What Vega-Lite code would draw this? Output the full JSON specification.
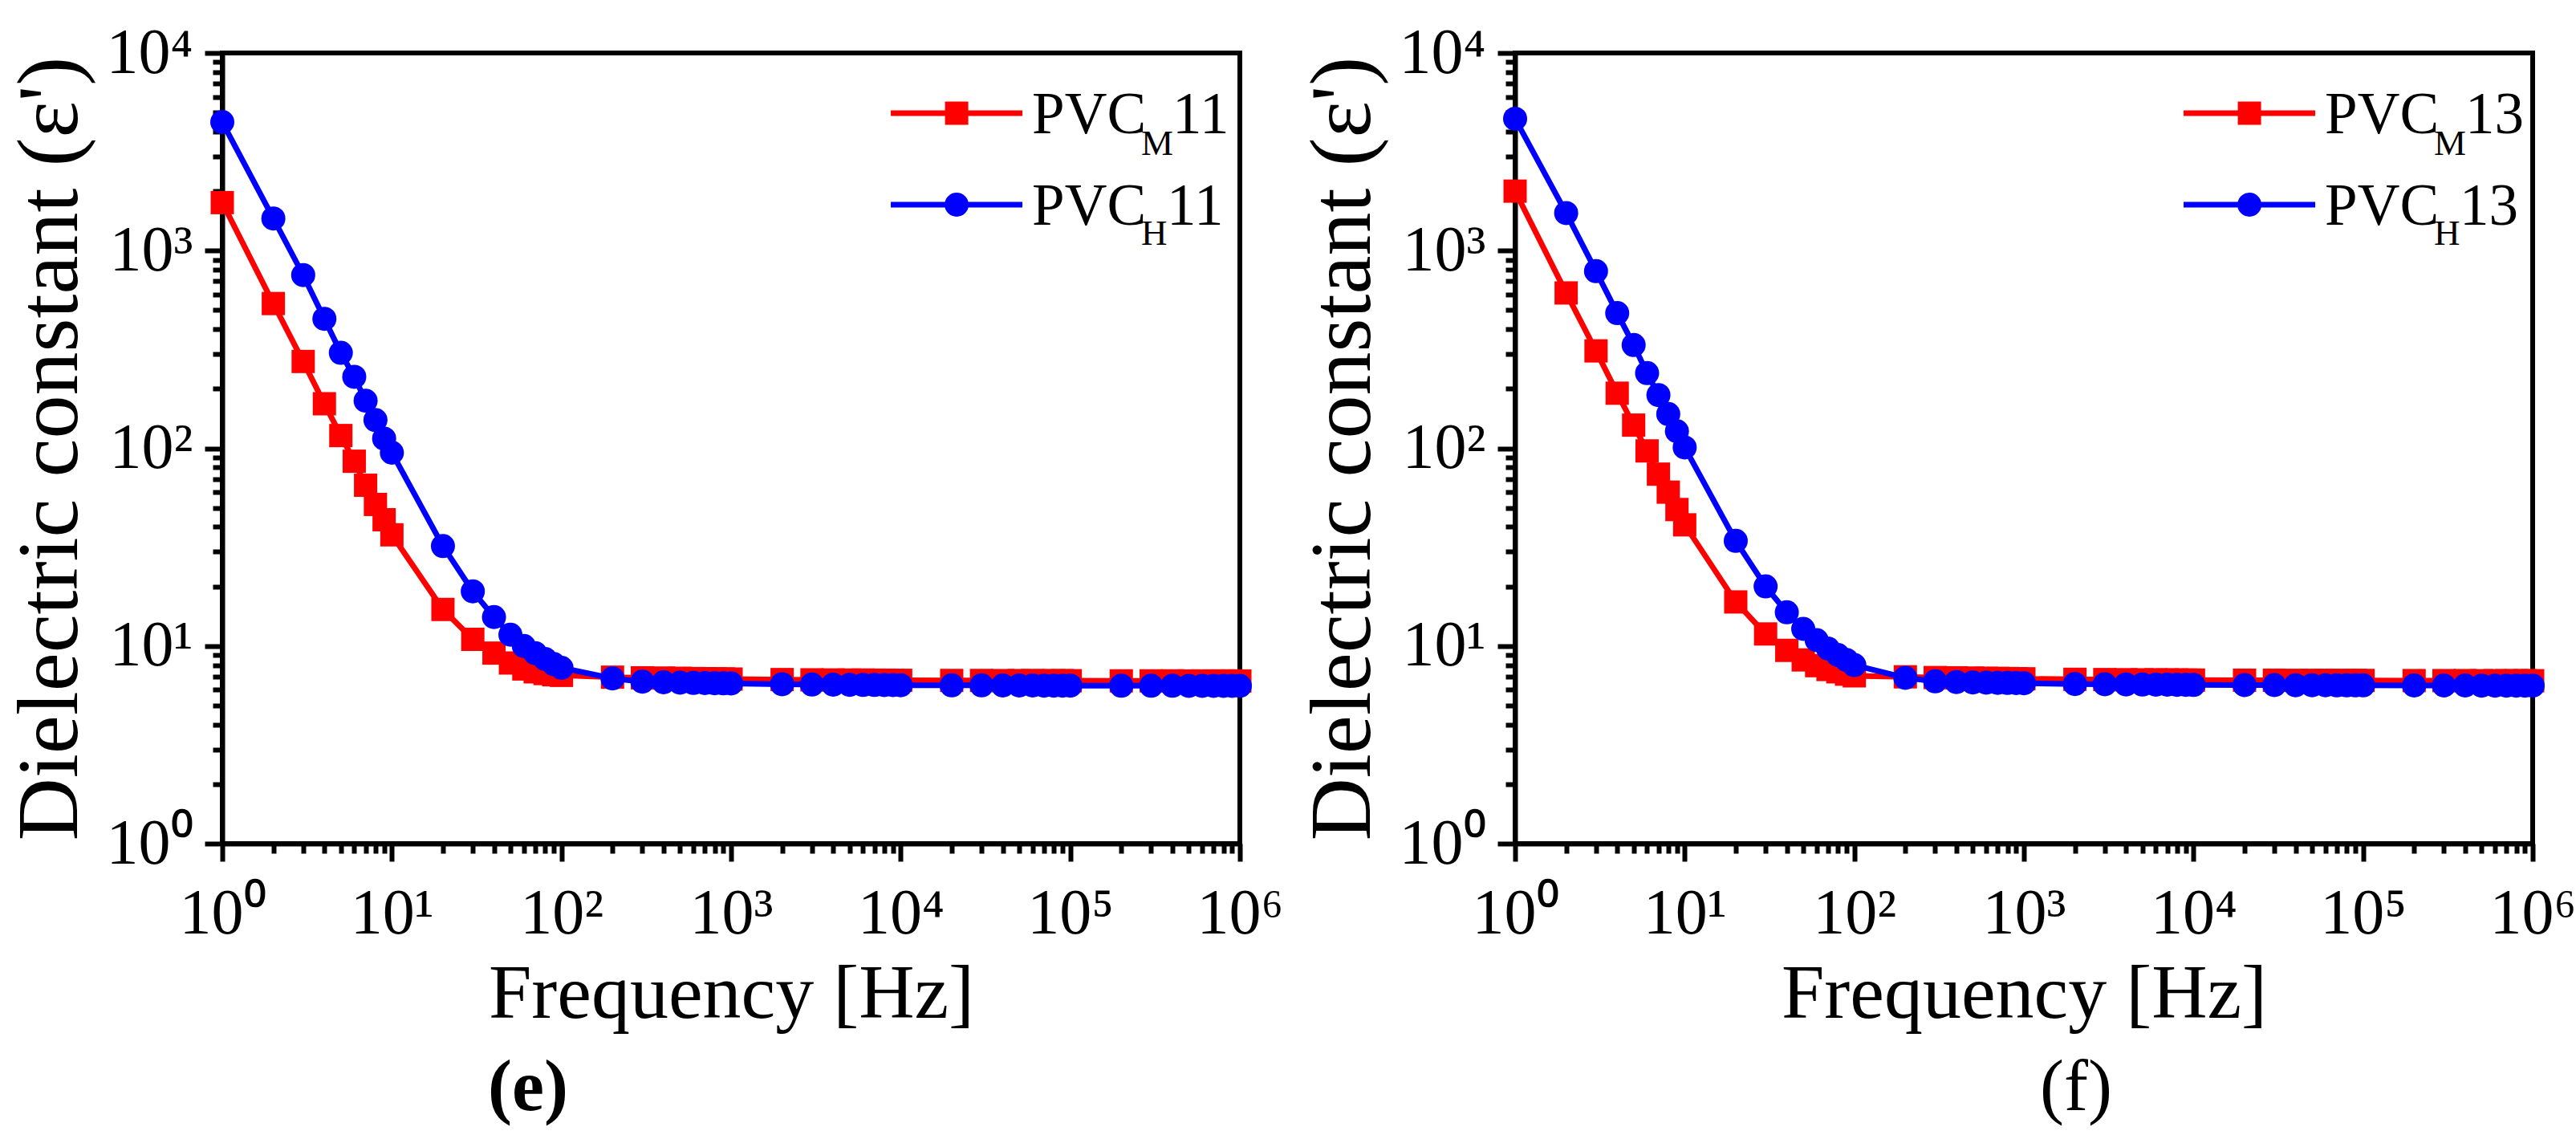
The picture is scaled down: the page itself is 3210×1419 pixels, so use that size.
{
  "$schema": "https://vega.github.io/schema/vega-lite/v6.json",
  "description": "Dielectric constant vs frequency, PVC samples (e) 11 and (f) 13",
  "background": "white",
  "padding": {"left": 5, "top": 23, "right": 0, "bottom": 0},
  "bounds": "flush",
  "spacing": 343,
  "config": {
    "font": "Liberation Serif",
    "view": {"stroke": "black", "strokeWidth": 6},
    "axis": {
      "grid": false,
      "domainColor": "black",
      "domainWidth": 6,
      "tickColor": "black",
      "tickWidth": 6,
      "labelFont": "Liberation Serif",
      "labelFontSize": 80,
      "labelColor": "black",
      "labelOverlap": false,
      "labelFlush": false,
      "labelBound": false,
      "titleFont": "Liberation Serif",
      "titleFontSize": 96,
      "titleFontWeight": "normal",
      "titleColor": "black"
    }
  },
  "datasets": {
    "panel_e": [
      {"frequency": 1, "permittivity": 1750, "sample": "PVC_M11"},
      {"frequency": 2, "permittivity": 540, "sample": "PVC_M11"},
      {"frequency": 3, "permittivity": 275, "sample": "PVC_M11"},
      {"frequency": 4, "permittivity": 168, "sample": "PVC_M11"},
      {"frequency": 5, "permittivity": 116, "sample": "PVC_M11"},
      {"frequency": 6, "permittivity": 86, "sample": "PVC_M11"},
      {"frequency": 7, "permittivity": 65, "sample": "PVC_M11"},
      {"frequency": 8, "permittivity": 52, "sample": "PVC_M11"},
      {"frequency": 9, "permittivity": 43.5, "sample": "PVC_M11"},
      {"frequency": 10, "permittivity": 36.5, "sample": "PVC_M11"},
      {"frequency": 20, "permittivity": 15.3, "sample": "PVC_M11"},
      {"frequency": 30, "permittivity": 10.8, "sample": "PVC_M11"},
      {"frequency": 40, "permittivity": 9.2, "sample": "PVC_M11"},
      {"frequency": 50, "permittivity": 8.2, "sample": "PVC_M11"},
      {"frequency": 60, "permittivity": 7.65, "sample": "PVC_M11"},
      {"frequency": 70, "permittivity": 7.4, "sample": "PVC_M11"},
      {"frequency": 80, "permittivity": 7.25, "sample": "PVC_M11"},
      {"frequency": 90, "permittivity": 7.15, "sample": "PVC_M11"},
      {"frequency": 100, "permittivity": 7.1, "sample": "PVC_M11"},
      {"frequency": 200, "permittivity": 6.95, "sample": "PVC_M11"},
      {"frequency": 300, "permittivity": 6.9, "sample": "PVC_M11"},
      {"frequency": 400, "permittivity": 6.88, "sample": "PVC_M11"},
      {"frequency": 500, "permittivity": 6.86, "sample": "PVC_M11"},
      {"frequency": 600, "permittivity": 6.84, "sample": "PVC_M11"},
      {"frequency": 700, "permittivity": 6.83, "sample": "PVC_M11"},
      {"frequency": 800, "permittivity": 6.82, "sample": "PVC_M11"},
      {"frequency": 900, "permittivity": 6.81, "sample": "PVC_M11"},
      {"frequency": 1000, "permittivity": 6.8, "sample": "PVC_M11"},
      {"frequency": 2000, "permittivity": 6.76, "sample": "PVC_M11"},
      {"frequency": 3000, "permittivity": 6.74, "sample": "PVC_M11"},
      {"frequency": 4000, "permittivity": 6.73, "sample": "PVC_M11"},
      {"frequency": 5000, "permittivity": 6.72, "sample": "PVC_M11"},
      {"frequency": 6000, "permittivity": 6.72, "sample": "PVC_M11"},
      {"frequency": 7000, "permittivity": 6.71, "sample": "PVC_M11"},
      {"frequency": 8000, "permittivity": 6.71, "sample": "PVC_M11"},
      {"frequency": 9000, "permittivity": 6.7, "sample": "PVC_M11"},
      {"frequency": 10000, "permittivity": 6.7, "sample": "PVC_M11"},
      {"frequency": 20000, "permittivity": 6.69, "sample": "PVC_M11"},
      {"frequency": 30000, "permittivity": 6.69, "sample": "PVC_M11"},
      {"frequency": 40000, "permittivity": 6.68, "sample": "PVC_M11"},
      {"frequency": 50000, "permittivity": 6.68, "sample": "PVC_M11"},
      {"frequency": 60000, "permittivity": 6.68, "sample": "PVC_M11"},
      {"frequency": 70000, "permittivity": 6.67, "sample": "PVC_M11"},
      {"frequency": 80000, "permittivity": 6.67, "sample": "PVC_M11"},
      {"frequency": 90000, "permittivity": 6.67, "sample": "PVC_M11"},
      {"frequency": 100000, "permittivity": 6.67, "sample": "PVC_M11"},
      {"frequency": 200000, "permittivity": 6.66, "sample": "PVC_M11"},
      {"frequency": 300000, "permittivity": 6.66, "sample": "PVC_M11"},
      {"frequency": 400000, "permittivity": 6.66, "sample": "PVC_M11"},
      {"frequency": 500000, "permittivity": 6.65, "sample": "PVC_M11"},
      {"frequency": 600000, "permittivity": 6.65, "sample": "PVC_M11"},
      {"frequency": 700000, "permittivity": 6.65, "sample": "PVC_M11"},
      {"frequency": 800000, "permittivity": 6.65, "sample": "PVC_M11"},
      {"frequency": 900000, "permittivity": 6.65, "sample": "PVC_M11"},
      {"frequency": 1000000, "permittivity": 6.65, "sample": "PVC_M11"},
      {"frequency": 1, "permittivity": 4470, "sample": "PVC_H11"},
      {"frequency": 2, "permittivity": 1455, "sample": "PVC_H11"},
      {"frequency": 3, "permittivity": 752, "sample": "PVC_H11"},
      {"frequency": 4, "permittivity": 452, "sample": "PVC_H11"},
      {"frequency": 5, "permittivity": 304, "sample": "PVC_H11"},
      {"frequency": 6, "permittivity": 230, "sample": "PVC_H11"},
      {"frequency": 7, "permittivity": 174, "sample": "PVC_H11"},
      {"frequency": 8, "permittivity": 139, "sample": "PVC_H11"},
      {"frequency": 9, "permittivity": 112, "sample": "PVC_H11"},
      {"frequency": 10, "permittivity": 95, "sample": "PVC_H11"},
      {"frequency": 20, "permittivity": 32, "sample": "PVC_H11"},
      {"frequency": 30, "permittivity": 18.9, "sample": "PVC_H11"},
      {"frequency": 40, "permittivity": 14, "sample": "PVC_H11"},
      {"frequency": 50, "permittivity": 11.4, "sample": "PVC_H11"},
      {"frequency": 60, "permittivity": 10, "sample": "PVC_H11"},
      {"frequency": 70, "permittivity": 9.2, "sample": "PVC_H11"},
      {"frequency": 80, "permittivity": 8.6, "sample": "PVC_H11"},
      {"frequency": 90, "permittivity": 8.1, "sample": "PVC_H11"},
      {"frequency": 100, "permittivity": 7.75, "sample": "PVC_H11"},
      {"frequency": 200, "permittivity": 6.85, "sample": "PVC_H11"},
      {"frequency": 300, "permittivity": 6.6, "sample": "PVC_H11"},
      {"frequency": 400, "permittivity": 6.55, "sample": "PVC_H11"},
      {"frequency": 500, "permittivity": 6.52, "sample": "PVC_H11"},
      {"frequency": 600, "permittivity": 6.5, "sample": "PVC_H11"},
      {"frequency": 700, "permittivity": 6.49, "sample": "PVC_H11"},
      {"frequency": 800, "permittivity": 6.48, "sample": "PVC_H11"},
      {"frequency": 900, "permittivity": 6.47, "sample": "PVC_H11"},
      {"frequency": 1000, "permittivity": 6.46, "sample": "PVC_H11"},
      {"frequency": 2000, "permittivity": 6.4, "sample": "PVC_H11"},
      {"frequency": 3000, "permittivity": 6.38, "sample": "PVC_H11"},
      {"frequency": 4000, "permittivity": 6.37, "sample": "PVC_H11"},
      {"frequency": 5000, "permittivity": 6.36, "sample": "PVC_H11"},
      {"frequency": 6000, "permittivity": 6.35, "sample": "PVC_H11"},
      {"frequency": 7000, "permittivity": 6.35, "sample": "PVC_H11"},
      {"frequency": 8000, "permittivity": 6.34, "sample": "PVC_H11"},
      {"frequency": 9000, "permittivity": 6.34, "sample": "PVC_H11"},
      {"frequency": 10000, "permittivity": 6.33, "sample": "PVC_H11"},
      {"frequency": 20000, "permittivity": 6.32, "sample": "PVC_H11"},
      {"frequency": 30000, "permittivity": 6.32, "sample": "PVC_H11"},
      {"frequency": 40000, "permittivity": 6.31, "sample": "PVC_H11"},
      {"frequency": 50000, "permittivity": 6.31, "sample": "PVC_H11"},
      {"frequency": 60000, "permittivity": 6.31, "sample": "PVC_H11"},
      {"frequency": 70000, "permittivity": 6.3, "sample": "PVC_H11"},
      {"frequency": 80000, "permittivity": 6.3, "sample": "PVC_H11"},
      {"frequency": 90000, "permittivity": 6.3, "sample": "PVC_H11"},
      {"frequency": 100000, "permittivity": 6.3, "sample": "PVC_H11"},
      {"frequency": 200000, "permittivity": 6.29, "sample": "PVC_H11"},
      {"frequency": 300000, "permittivity": 6.29, "sample": "PVC_H11"},
      {"frequency": 400000, "permittivity": 6.29, "sample": "PVC_H11"},
      {"frequency": 500000, "permittivity": 6.28, "sample": "PVC_H11"},
      {"frequency": 600000, "permittivity": 6.28, "sample": "PVC_H11"},
      {"frequency": 700000, "permittivity": 6.28, "sample": "PVC_H11"},
      {"frequency": 800000, "permittivity": 6.28, "sample": "PVC_H11"},
      {"frequency": 900000, "permittivity": 6.28, "sample": "PVC_H11"},
      {"frequency": 1000000, "permittivity": 6.28, "sample": "PVC_H11"}
    ],
    "panel_f": [
      {"frequency": 1, "permittivity": 2000, "sample": "PVC_M13"},
      {"frequency": 2, "permittivity": 611, "sample": "PVC_M13"},
      {"frequency": 3, "permittivity": 311, "sample": "PVC_M13"},
      {"frequency": 4, "permittivity": 190, "sample": "PVC_M13"},
      {"frequency": 5, "permittivity": 131, "sample": "PVC_M13"},
      {"frequency": 6, "permittivity": 97, "sample": "PVC_M13"},
      {"frequency": 7, "permittivity": 74, "sample": "PVC_M13"},
      {"frequency": 8, "permittivity": 60, "sample": "PVC_M13"},
      {"frequency": 9, "permittivity": 49, "sample": "PVC_M13"},
      {"frequency": 10, "permittivity": 41, "sample": "PVC_M13"},
      {"frequency": 20, "permittivity": 16.7, "sample": "PVC_M13"},
      {"frequency": 30, "permittivity": 11.5, "sample": "PVC_M13"},
      {"frequency": 40, "permittivity": 9.5, "sample": "PVC_M13"},
      {"frequency": 50, "permittivity": 8.5, "sample": "PVC_M13"},
      {"frequency": 60, "permittivity": 7.95, "sample": "PVC_M13"},
      {"frequency": 70, "permittivity": 7.6, "sample": "PVC_M13"},
      {"frequency": 80, "permittivity": 7.4, "sample": "PVC_M13"},
      {"frequency": 90, "permittivity": 7.2, "sample": "PVC_M13"},
      {"frequency": 100, "permittivity": 7.06, "sample": "PVC_M13"},
      {"frequency": 200, "permittivity": 6.98, "sample": "PVC_M13"},
      {"frequency": 300, "permittivity": 6.92, "sample": "PVC_M13"},
      {"frequency": 400, "permittivity": 6.9, "sample": "PVC_M13"},
      {"frequency": 500, "permittivity": 6.88, "sample": "PVC_M13"},
      {"frequency": 600, "permittivity": 6.86, "sample": "PVC_M13"},
      {"frequency": 700, "permittivity": 6.85, "sample": "PVC_M13"},
      {"frequency": 800, "permittivity": 6.84, "sample": "PVC_M13"},
      {"frequency": 900, "permittivity": 6.83, "sample": "PVC_M13"},
      {"frequency": 1000, "permittivity": 6.82, "sample": "PVC_M13"},
      {"frequency": 2000, "permittivity": 6.78, "sample": "PVC_M13"},
      {"frequency": 3000, "permittivity": 6.76, "sample": "PVC_M13"},
      {"frequency": 4000, "permittivity": 6.75, "sample": "PVC_M13"},
      {"frequency": 5000, "permittivity": 6.74, "sample": "PVC_M13"},
      {"frequency": 6000, "permittivity": 6.74, "sample": "PVC_M13"},
      {"frequency": 7000, "permittivity": 6.73, "sample": "PVC_M13"},
      {"frequency": 8000, "permittivity": 6.73, "sample": "PVC_M13"},
      {"frequency": 9000, "permittivity": 6.72, "sample": "PVC_M13"},
      {"frequency": 10000, "permittivity": 6.72, "sample": "PVC_M13"},
      {"frequency": 20000, "permittivity": 6.71, "sample": "PVC_M13"},
      {"frequency": 30000, "permittivity": 6.71, "sample": "PVC_M13"},
      {"frequency": 40000, "permittivity": 6.7, "sample": "PVC_M13"},
      {"frequency": 50000, "permittivity": 6.7, "sample": "PVC_M13"},
      {"frequency": 60000, "permittivity": 6.7, "sample": "PVC_M13"},
      {"frequency": 70000, "permittivity": 6.69, "sample": "PVC_M13"},
      {"frequency": 80000, "permittivity": 6.69, "sample": "PVC_M13"},
      {"frequency": 90000, "permittivity": 6.69, "sample": "PVC_M13"},
      {"frequency": 100000, "permittivity": 6.69, "sample": "PVC_M13"},
      {"frequency": 200000, "permittivity": 6.68, "sample": "PVC_M13"},
      {"frequency": 300000, "permittivity": 6.68, "sample": "PVC_M13"},
      {"frequency": 400000, "permittivity": 6.68, "sample": "PVC_M13"},
      {"frequency": 500000, "permittivity": 6.67, "sample": "PVC_M13"},
      {"frequency": 600000, "permittivity": 6.67, "sample": "PVC_M13"},
      {"frequency": 700000, "permittivity": 6.67, "sample": "PVC_M13"},
      {"frequency": 800000, "permittivity": 6.67, "sample": "PVC_M13"},
      {"frequency": 900000, "permittivity": 6.67, "sample": "PVC_M13"},
      {"frequency": 1000000, "permittivity": 6.67, "sample": "PVC_M13"},
      {"frequency": 1, "permittivity": 4650, "sample": "PVC_H13"},
      {"frequency": 2, "permittivity": 1550, "sample": "PVC_H13"},
      {"frequency": 3, "permittivity": 787, "sample": "PVC_H13"},
      {"frequency": 4, "permittivity": 483, "sample": "PVC_H13"},
      {"frequency": 5, "permittivity": 333, "sample": "PVC_H13"},
      {"frequency": 6, "permittivity": 240, "sample": "PVC_H13"},
      {"frequency": 7, "permittivity": 186, "sample": "PVC_H13"},
      {"frequency": 8, "permittivity": 149, "sample": "PVC_H13"},
      {"frequency": 9, "permittivity": 122, "sample": "PVC_H13"},
      {"frequency": 10, "permittivity": 101, "sample": "PVC_H13"},
      {"frequency": 20, "permittivity": 34, "sample": "PVC_H13"},
      {"frequency": 30, "permittivity": 20, "sample": "PVC_H13"},
      {"frequency": 40, "permittivity": 14.8, "sample": "PVC_H13"},
      {"frequency": 50, "permittivity": 12.2, "sample": "PVC_H13"},
      {"frequency": 60, "permittivity": 10.7, "sample": "PVC_H13"},
      {"frequency": 70, "permittivity": 9.7, "sample": "PVC_H13"},
      {"frequency": 80, "permittivity": 9.0, "sample": "PVC_H13"},
      {"frequency": 90, "permittivity": 8.5, "sample": "PVC_H13"},
      {"frequency": 100, "permittivity": 8.0, "sample": "PVC_H13"},
      {"frequency": 200, "permittivity": 6.9, "sample": "PVC_H13"},
      {"frequency": 300, "permittivity": 6.62, "sample": "PVC_H13"},
      {"frequency": 400, "permittivity": 6.57, "sample": "PVC_H13"},
      {"frequency": 500, "permittivity": 6.54, "sample": "PVC_H13"},
      {"frequency": 600, "permittivity": 6.52, "sample": "PVC_H13"},
      {"frequency": 700, "permittivity": 6.51, "sample": "PVC_H13"},
      {"frequency": 800, "permittivity": 6.5, "sample": "PVC_H13"},
      {"frequency": 900, "permittivity": 6.49, "sample": "PVC_H13"},
      {"frequency": 1000, "permittivity": 6.48, "sample": "PVC_H13"},
      {"frequency": 2000, "permittivity": 6.42, "sample": "PVC_H13"},
      {"frequency": 3000, "permittivity": 6.4, "sample": "PVC_H13"},
      {"frequency": 4000, "permittivity": 6.39, "sample": "PVC_H13"},
      {"frequency": 5000, "permittivity": 6.38, "sample": "PVC_H13"},
      {"frequency": 6000, "permittivity": 6.37, "sample": "PVC_H13"},
      {"frequency": 7000, "permittivity": 6.37, "sample": "PVC_H13"},
      {"frequency": 8000, "permittivity": 6.36, "sample": "PVC_H13"},
      {"frequency": 9000, "permittivity": 6.36, "sample": "PVC_H13"},
      {"frequency": 10000, "permittivity": 6.35, "sample": "PVC_H13"},
      {"frequency": 20000, "permittivity": 6.34, "sample": "PVC_H13"},
      {"frequency": 30000, "permittivity": 6.34, "sample": "PVC_H13"},
      {"frequency": 40000, "permittivity": 6.33, "sample": "PVC_H13"},
      {"frequency": 50000, "permittivity": 6.33, "sample": "PVC_H13"},
      {"frequency": 60000, "permittivity": 6.33, "sample": "PVC_H13"},
      {"frequency": 70000, "permittivity": 6.32, "sample": "PVC_H13"},
      {"frequency": 80000, "permittivity": 6.32, "sample": "PVC_H13"},
      {"frequency": 90000, "permittivity": 6.32, "sample": "PVC_H13"},
      {"frequency": 100000, "permittivity": 6.32, "sample": "PVC_H13"},
      {"frequency": 200000, "permittivity": 6.31, "sample": "PVC_H13"},
      {"frequency": 300000, "permittivity": 6.31, "sample": "PVC_H13"},
      {"frequency": 400000, "permittivity": 6.31, "sample": "PVC_H13"},
      {"frequency": 500000, "permittivity": 6.3, "sample": "PVC_H13"},
      {"frequency": 600000, "permittivity": 6.3, "sample": "PVC_H13"},
      {"frequency": 700000, "permittivity": 6.3, "sample": "PVC_H13"},
      {"frequency": 800000, "permittivity": 6.3, "sample": "PVC_H13"},
      {"frequency": 900000, "permittivity": 6.3, "sample": "PVC_H13"},
      {"frequency": 1000000, "permittivity": 6.3, "sample": "PVC_H13"}
    ]
  },
  "hconcat": [
    {
      "width": 1268,
      "height": 985,
      "title": {"text": "(e)", "orient": "bottom", "anchor": "middle", "dx": -253, "offset": 97, "baseline": "alphabetic", "font": "Liberation Serif", "fontSize": 90, "fontWeight": "bold", "color": "black"},
      "data": {"name": "panel_e"},
      "encoding": {
        "x": {
          "field": "frequency", "type": "quantitative",
          "scale": {"type": "log", "domain": [1, 1000000], "nice": false},
          "axis": {
            "title": "Frequency [Hz]",
            "values": [1,2,3,4,5,6,7,8,9,10,20,30,40,50,60,70,80,90,100,200,300,400,500,600,700,800,900,1000,2000,3000,4000,5000,6000,7000,8000,9000,10000,20000,30000,40000,50000,60000,70000,80000,90000,100000,200000,300000,400000,500000,600000,700000,800000,900000,1000000],
            "labelExpr": "indexof([1,10,100,1000,10000,100000,1000000], datum.value) >= 0 ? '10' + ['⁰','¹','²','³','⁴','⁵','⁶'][indexof([1,10,100,1000,10000,100000,1000000], datum.value)] : ''",
            "tickSize": {"condition": {"test": "indexof([1,10,100,1000,10000,100000,1000000], datum.value) >= 0", "value": 22}, "value": 12},
            "labelBaseline": "top",
            "labelPadding": 26,
            "titlePadding": 13
          }
        },
        "y": {
          "field": "permittivity", "type": "quantitative",
          "scale": {"type": "log", "domain": [1, 10000], "nice": false},
          "axis": {
            "title": "Dielectric constant (ε')",
            "titleFontSize": 108,
            "values": [1,2,3,4,5,6,7,8,9,10,20,30,40,50,60,70,80,90,100,200,300,400,500,600,700,800,900,1000,2000,3000,4000,5000,6000,7000,8000,9000,10000],
            "labelExpr": "indexof([1,10,100,1000,10000], datum.value) >= 0 ? '10' + ['⁰','¹','²','³','⁴'][indexof([1,10,100,1000,10000], datum.value)] : ''",
            "tickSize": {"condition": {"test": "indexof([1,10,100,1000,10000], datum.value) >= 0", "value": 22}, "value": 12},
            "labelPadding": 15,
            "titlePadding": 14
          }
        }
      },
      "layer": [
        {"transform": [{"filter": "datum.sample === 'PVC_M11'"}], "mark": {"type": "line", "color": "#ff0000", "strokeWidth": 7}},
        {"transform": [{"filter": "datum.sample === 'PVC_M11'"}], "mark": {"type": "point", "shape": "square", "filled": true, "size": 841, "color": "#ff0000", "opacity": 1}},
        {"transform": [{"filter": "datum.sample === 'PVC_H11'"}], "mark": {"type": "line", "color": "#0000ff", "strokeWidth": 7}},
        {"transform": [{"filter": "datum.sample === 'PVC_H11'"}], "mark": {"type": "point", "shape": "circle", "filled": true, "size": 900, "color": "#0000ff", "opacity": 1}},
        {"transform": [{"filter": "datum.sample === 'PVC_M11' && datum.frequency === 1"}], "mark": {"type": "rule", "color": "#ff0000", "strokeWidth": 7}, "encoding": {"x": {"datum": 8744}, "x2": {"datum": 52230}, "y": {"datum": 4958}}},
        {"transform": [{"filter": "datum.sample === 'PVC_M11' && datum.frequency === 1"}], "mark": {"type": "point", "shape": "square", "filled": true, "size": 841, "color": "#ff0000", "opacity": 1}, "encoding": {"x": {"datum": 21380}, "y": {"datum": 4958}}},
        {"transform": [{"filter": "datum.sample === 'PVC_H11' && datum.frequency === 1"}], "mark": {"type": "rule", "color": "#0000ff", "strokeWidth": 7}, "encoding": {"x": {"datum": 8744}, "x2": {"datum": 52230}, "y": {"datum": 1708}}},
        {"transform": [{"filter": "datum.sample === 'PVC_H11' && datum.frequency === 1"}], "mark": {"type": "point", "shape": "circle", "filled": true, "size": 900, "color": "#0000ff", "opacity": 1}, "encoding": {"x": {"datum": 21380}, "y": {"datum": 1708}}},
        {"transform": [{"filter": "datum.sample === 'PVC_M11' && datum.frequency === 1"}], "mark": {"type": "text", "text": "PVC", "fontSize": 73, "align": "left", "baseline": "alphabetic", "color": "black"}, "encoding": {"x": {"datum": 59560}, "y": {"datum": 3927}}},
        {"transform": [{"filter": "datum.sample === 'PVC_M11' && datum.frequency === 1"}], "mark": {"type": "text", "text": "M", "fontSize": 45, "align": "left", "baseline": "alphabetic", "color": "black"}, "encoding": {"x": {"datum": 261800}, "y": {"datum": 3050}}},
        {"transform": [{"filter": "datum.sample === 'PVC_M11' && datum.frequency === 1"}], "mark": {"type": "text", "text": "11", "fontSize": 73, "align": "left", "baseline": "alphabetic", "color": "black"}, "encoding": {"x": {"datum": 400900}, "y": {"datum": 3927}}},
        {"transform": [{"filter": "datum.sample === 'PVC_H11' && datum.frequency === 1"}], "mark": {"type": "text", "text": "PVC", "fontSize": 73, "align": "left", "baseline": "alphabetic", "color": "black"}, "encoding": {"x": {"datum": 59560}, "y": {"datum": 1352}}},
        {"transform": [{"filter": "datum.sample === 'PVC_H11' && datum.frequency === 1"}], "mark": {"type": "text", "text": "H", "fontSize": 45, "align": "left", "baseline": "alphabetic", "color": "black"}, "encoding": {"x": {"datum": 261800}, "y": {"datum": 1070}}},
        {"transform": [{"filter": "datum.sample === 'PVC_H11' && datum.frequency === 1"}], "mark": {"type": "text", "text": "11", "fontSize": 73, "align": "left", "baseline": "alphabetic", "color": "black"}, "encoding": {"x": {"datum": 371500}, "y": {"datum": 1352}}}
      ]
    },
    {
      "width": 1268,
      "height": 985,
      "title": {"text": "(f)", "orient": "bottom", "anchor": "middle", "dx": 65, "offset": 97, "baseline": "alphabetic", "font": "Liberation Serif", "fontSize": 90, "fontWeight": "normal", "color": "black"},
      "data": {"name": "panel_f"},
      "encoding": {
        "x": {
          "field": "frequency", "type": "quantitative",
          "scale": {"type": "log", "domain": [1, 1000000], "nice": false},
          "axis": {
            "title": "Frequency [Hz]",
            "values": [1,2,3,4,5,6,7,8,9,10,20,30,40,50,60,70,80,90,100,200,300,400,500,600,700,800,900,1000,2000,3000,4000,5000,6000,7000,8000,9000,10000,20000,30000,40000,50000,60000,70000,80000,90000,100000,200000,300000,400000,500000,600000,700000,800000,900000,1000000],
            "labelExpr": "indexof([1,10,100,1000,10000,100000,1000000], datum.value) >= 0 ? '10' + ['⁰','¹','²','³','⁴','⁵','⁶'][indexof([1,10,100,1000,10000,100000,1000000], datum.value)] : ''",
            "tickSize": {"condition": {"test": "indexof([1,10,100,1000,10000,100000,1000000], datum.value) >= 0", "value": 22}, "value": 12},
            "labelBaseline": "top",
            "labelPadding": 26,
            "titlePadding": 13
          }
        },
        "y": {
          "field": "permittivity", "type": "quantitative",
          "scale": {"type": "log", "domain": [1, 10000], "nice": false},
          "axis": {
            "title": "Dielectric constant (ε')",
            "titleFontSize": 108,
            "values": [1,2,3,4,5,6,7,8,9,10,20,30,40,50,60,70,80,90,100,200,300,400,500,600,700,800,900,1000,2000,3000,4000,5000,6000,7000,8000,9000,10000],
            "labelExpr": "indexof([1,10,100,1000,10000], datum.value) >= 0 ? '10' + ['⁰','¹','²','³','⁴'][indexof([1,10,100,1000,10000], datum.value)] : ''",
            "tickSize": {"condition": {"test": "indexof([1,10,100,1000,10000], datum.value) >= 0", "value": 22}, "value": 12},
            "labelPadding": 15,
            "titlePadding": 14
          }
        }
      },
      "layer": [
        {"transform": [{"filter": "datum.sample === 'PVC_M13'"}], "mark": {"type": "line", "color": "#ff0000", "strokeWidth": 7}},
        {"transform": [{"filter": "datum.sample === 'PVC_M13'"}], "mark": {"type": "point", "shape": "square", "filled": true, "size": 841, "color": "#ff0000", "opacity": 1}},
        {"transform": [{"filter": "datum.sample === 'PVC_H13'"}], "mark": {"type": "line", "color": "#0000ff", "strokeWidth": 7}},
        {"transform": [{"filter": "datum.sample === 'PVC_H13'"}], "mark": {"type": "point", "shape": "circle", "filled": true, "size": 900, "color": "#0000ff", "opacity": 1}},
        {"transform": [{"filter": "datum.sample === 'PVC_M13' && datum.frequency === 1"}], "mark": {"type": "rule", "color": "#ff0000", "strokeWidth": 7}, "encoding": {"x": {"datum": 8744}, "x2": {"datum": 52230}, "y": {"datum": 4958}}},
        {"transform": [{"filter": "datum.sample === 'PVC_M13' && datum.frequency === 1"}], "mark": {"type": "point", "shape": "square", "filled": true, "size": 841, "color": "#ff0000", "opacity": 1}, "encoding": {"x": {"datum": 21380}, "y": {"datum": 4958}}},
        {"transform": [{"filter": "datum.sample === 'PVC_H13' && datum.frequency === 1"}], "mark": {"type": "rule", "color": "#0000ff", "strokeWidth": 7}, "encoding": {"x": {"datum": 8744}, "x2": {"datum": 52230}, "y": {"datum": 1708}}},
        {"transform": [{"filter": "datum.sample === 'PVC_H13' && datum.frequency === 1"}], "mark": {"type": "point", "shape": "circle", "filled": true, "size": 900, "color": "#0000ff", "opacity": 1}, "encoding": {"x": {"datum": 21380}, "y": {"datum": 1708}}},
        {"transform": [{"filter": "datum.sample === 'PVC_M13' && datum.frequency === 1"}], "mark": {"type": "text", "text": "PVC", "fontSize": 73, "align": "left", "baseline": "alphabetic", "color": "black"}, "encoding": {"x": {"datum": 59560}, "y": {"datum": 3927}}},
        {"transform": [{"filter": "datum.sample === 'PVC_M13' && datum.frequency === 1"}], "mark": {"type": "text", "text": "M", "fontSize": 45, "align": "left", "baseline": "alphabetic", "color": "black"}, "encoding": {"x": {"datum": 261800}, "y": {"datum": 3050}}},
        {"transform": [{"filter": "datum.sample === 'PVC_M13' && datum.frequency === 1"}], "mark": {"type": "text", "text": "13", "fontSize": 73, "align": "left", "baseline": "alphabetic", "color": "black"}, "encoding": {"x": {"datum": 400900}, "y": {"datum": 3927}}},
        {"transform": [{"filter": "datum.sample === 'PVC_H13' && datum.frequency === 1"}], "mark": {"type": "text", "text": "PVC", "fontSize": 73, "align": "left", "baseline": "alphabetic", "color": "black"}, "encoding": {"x": {"datum": 59560}, "y": {"datum": 1352}}},
        {"transform": [{"filter": "datum.sample === 'PVC_H13' && datum.frequency === 1"}], "mark": {"type": "text", "text": "H", "fontSize": 45, "align": "left", "baseline": "alphabetic", "color": "black"}, "encoding": {"x": {"datum": 261800}, "y": {"datum": 1070}}},
        {"transform": [{"filter": "datum.sample === 'PVC_H13' && datum.frequency === 1"}], "mark": {"type": "text", "text": "13", "fontSize": 73, "align": "left", "baseline": "alphabetic", "color": "black"}, "encoding": {"x": {"datum": 371500}, "y": {"datum": 1352}}}
      ]
    }
  ]
}
